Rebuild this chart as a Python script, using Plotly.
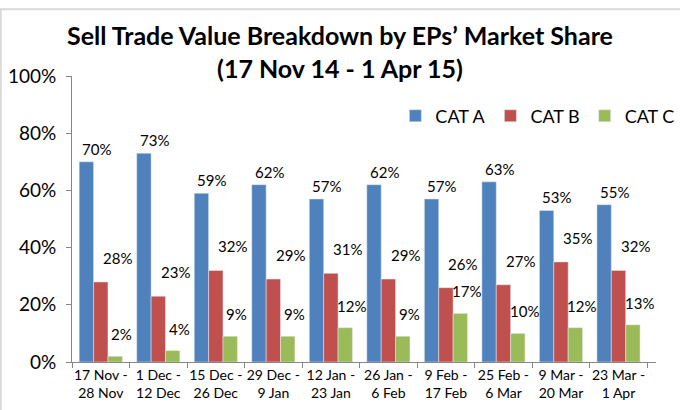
import plotly.graph_objects as go

categories = ["17 Nov -<br>28 Nov", "1 Dec -<br>12 Dec", "15 Dec -<br>26 Dec", "29 Dec -<br>9 Jan",
              "12 Jan -<br>23 Jan", "26 Jan -<br>6 Feb", "9 Feb -<br>17 Feb", "25 Feb -<br>6 Mar",
              "9 Mar -<br>20 Mar", "23 Mar -<br>1 Apr"]
cat_a = [0.70, 0.73, 0.59, 0.62, 0.57, 0.62, 0.57, 0.63, 0.53, 0.55]
cat_b = [0.28, 0.23, 0.32, 0.29, 0.31, 0.29, 0.26, 0.27, 0.35, 0.32]
cat_c = [0.02, 0.04, 0.09, 0.09, 0.12, 0.09, 0.17, 0.10, 0.12, 0.13]

FONT = "Lato"
series = [("CAT A", cat_a, "#4f81bd"), ("CAT B", cat_b, "#c0504d"), ("CAT C", cat_c, "#9bbb59")]
# label offsets (pixels) relative to category centre, mimicking the original's label placement
label_xshift = [-4, 17, 21]
label_yshift = [2, 13, 11]

fig = go.Figure()
annotations = []
for i, (name, vals, col) in enumerate(series):
    fig.add_trace(go.Bar(x=categories, y=vals, name=name, marker_color=col))
    for cat, v in zip(categories, vals):
        annotations.append(dict(
            x=cat, y=v, xref="x", yref="y", text=f"{round(v*100)}%", showarrow=False,
            xanchor="center", yanchor="bottom", xshift=label_xshift[i], yshift=label_yshift[i],
            font=dict(family=FONT, size=15, color="#000000"),
        ))

fig.update_layout(
    width=680, height=410,
    margin=dict(l=72, r=24, t=76, b=48, autoexpand=False),
    paper_bgcolor="white", plot_bgcolor="white",
    barmode="group", bargap=0.25, bargroupgap=0,
    font=dict(family=FONT, color="#000000"),
    title=dict(text="<b>Sell Trade Value Breakdown by EPs’ Market Share<br>(17 Nov 14 - 1 Apr 15)</b>",
               x=0.5, xanchor="center", y=0.89, yanchor="top",
               font=dict(family=FONT, size=25, color="#000000")),
    legend=dict(orientation="h", x=1.04, xanchor="right", y=0.86, yanchor="middle",
                font=dict(family=FONT, size=18), bgcolor="rgba(0,0,0,0)",
                itemwidth=30, traceorder="normal"),
    xaxis=dict(showline=True, linecolor="#868686", linewidth=1, ticks="outside",
               tickcolor="#868686", ticklen=5, tickson="boundaries", tickangle=0,
               automargin=False,
               tickfont=dict(family=FONT, size=14), showgrid=False),
    yaxis=dict(range=[0, 1], tickformat=".0%", dtick=0.2, showline=True,
               linecolor="#868686", linewidth=1, ticks="outside", tickcolor="#868686",
               ticklen=5, showgrid=False, zeroline=False, automargin=False,
               ticklabelstandoff=6,
               tickfont=dict(family=FONT, size=19)),
    annotations=annotations,
    shapes=[dict(type="rect", xref="paper", yref="paper", x0=-0.122, x1=1.1, y0=-0.3, y1=1.233,
                 line=dict(color="#d9d9d9", width=2), layer="below")],
)

fig.write_html("out.html")
